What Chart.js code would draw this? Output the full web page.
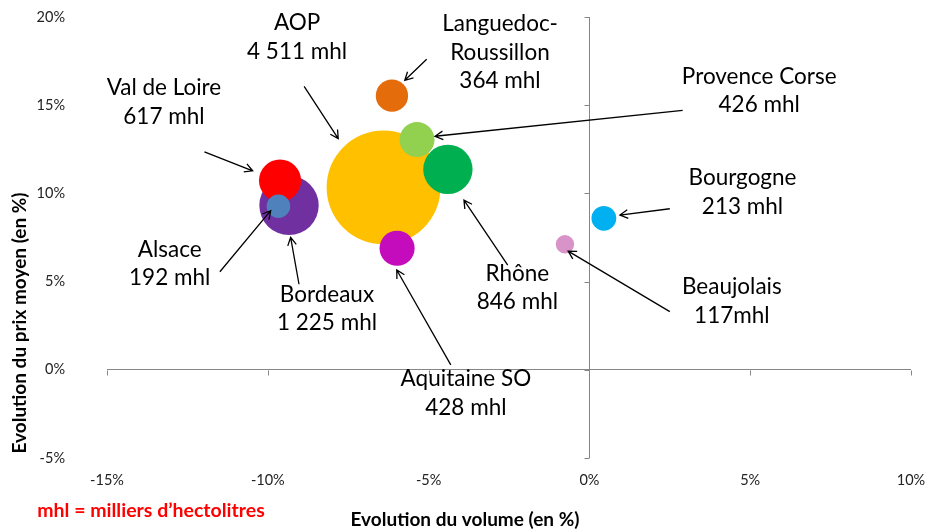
<!DOCTYPE html>
<html>
<head>
<meta charset="utf-8">
<script src="https://cdn.jsdelivr.net/npm/chart.js@4/dist/chart.umd.min.js"></script>
<style>
  html, body { margin: 0; padding: 0; background: #ffffff; }
  #wrap { width: 930px; height: 531px; position: relative; }
</style>
</head>
<body>
<div id="wrap"><canvas id="c" width="930" height="531"></canvas></div>
<script>
// ---- data ----
const regions   = ['AOP', 'Bordeaux', 'Rhône', 'Val de Loire', 'Aquitaine SO', 'Provence Corse', 'Languedoc-Roussillon', 'Bourgogne', 'Alsace', 'Beaujolais'];
const volChange = [-6.40, -9.34, -4.40, -9.62, -5.98, -5.36, -6.14, 0.45, -9.67, -0.76];   // % evolution du volume
const priceChange = [10.34, 9.32, 11.36, 10.73, 6.89, 13.05, 15.54, 8.59, 9.27, 7.12];   // % evolution du prix moyen
const volumes   = [4511, 1225, 846, 617, 428, 426, 364, 213, 192, 117];                    // mhl
const colors    = ['#FFC000', '#7030A0', '#00B050', '#FF0000', '#C40CBC', '#92D050', '#E46C0A', '#00B0F0', '#4F81BD', '#D894C9'];
const xTicks = [-15, -10, -5, 0, 5, 10];
const yTicks = [-5, 0, 5, 10, 15, 20];

// label texts (lines) and their anchors/arrows in data units
const labelLines = [
  ['AOP', '4 511 mhl'],
  ['Bordeaux', '1 225 mhl'],
  ['Rhône', '846 mhl'],
  ['Val de Loire', '617 mhl'],
  ['Aquitaine SO', '428 mhl'],
  ['Provence Corse', '426 mhl'],
  ['Languedoc-', 'Roussillon', '364 mhl'],
  ['Bourgogne', '213 mhl'],
  ['Alsace', '192 mhl'],
  ['Beaujolais', '117mhl']
];
const labelAnchorX = [-9.09, -8.16, -2.24, -13.23, -3.84, 5.28, -2.78, 4.76, -13.05, 4.43];
const labelAnchorY = [19.66, 4.28, 5.47, 15.98, -0.51, 16.64, 19.62, 10.88, 6.83, 4.71];
const arrowFromX = [-8.87, -9.03, -2.54, -11.97, -4.31, 2.90, -5.06, 2.50, -11.49, 2.50];
const arrowFromY = [16.07, 4.85, 5.94, 12.35, 0.28, 14.71, 17.60, 9.13, 5.56, 3.30];
const arrowToX   = [-7.81, -9.29, -3.90, -10.47, -5.99, -4.80, -5.74, 0.95, -9.91, -0.66];
const arrowToY   = [13.11, 7.51, 9.62, 11.28, 5.66, 13.24, 16.41, 8.77, 9.02, 6.73];

const BUBBLE_K = 0.848;
const FONT = 'Lato, "Open Sans", sans-serif';

const points = volChange.map((x, i) => ({ x: x, y: priceChange[i], r: BUBBLE_K * Math.sqrt(volumes[i]) }));

const annotationPlugin = {
  id: 'annots',
  afterDatasetsDraw(chart) {
    const ctx = chart.ctx;
    const xs = chart.scales.x, ys = chart.scales.y;
    ctx.save();
    // zero axes tick marks
    ctx.strokeStyle = '#868686';
    ctx.lineWidth = 1;
    const x0 = Math.round(xs.getPixelForValue(0)) + 0.5;
    const y0 = Math.round(ys.getPixelForValue(0)) + 0.5;
    ctx.beginPath();
    yTicks.forEach(v => {
      const py = Math.round(ys.getPixelForValue(v)) + 0.5;
      ctx.moveTo(x0 - 5, py); ctx.lineTo(x0, py);
    });
    xTicks.forEach(v => {
      const px = Math.round(xs.getPixelForValue(v)) + 0.5;
      ctx.moveTo(px, y0); ctx.lineTo(px, y0 + 5);
    });
    ctx.stroke();

    // tick labels (low position, as in the reference)
    ctx.fillStyle = '#222';
    ctx.font = '14.5px ' + FONT;
    ctx.textBaseline = 'middle';
    ctx.textAlign = 'right';
    yTicks.forEach(v => ctx.fillText(v + '%', 65, ys.getPixelForValue(v)));
    ctx.textAlign = 'center';
    xTicks.forEach(v => ctx.fillText(v + '%', xs.getPixelForValue(v), 480));

    // arrows
    ctx.strokeStyle = '#000';
    ctx.lineWidth = 1.3;
    for (let i = 0; i < regions.length; i++) {
      const ax = xs.getPixelForValue(arrowFromX[i]), ay = ys.getPixelForValue(arrowFromY[i]);
      const bx = xs.getPixelForValue(arrowToX[i]), by = ys.getPixelForValue(arrowToY[i]);
      ctx.beginPath();
      ctx.moveTo(ax, ay); ctx.lineTo(bx, by);
      const ang = Math.atan2(by - ay, bx - ax);
      const L = 9, W = 0.5;
      ctx.moveTo(bx - L * Math.cos(ang - W), by - L * Math.sin(ang - W));
      ctx.lineTo(bx, by);
      ctx.lineTo(bx - L * Math.cos(ang + W), by - L * Math.sin(ang + W));
      ctx.stroke();
    }

    // labels
    ctx.fillStyle = '#000';
    ctx.font = '22.5px ' + FONT;
    ctx.textAlign = 'center';
    ctx.textBaseline = 'middle';
    for (let i = 0; i < regions.length; i++) {
      const px = xs.getPixelForValue(labelAnchorX[i]);
      const py = ys.getPixelForValue(labelAnchorY[i]);
      labelLines[i].forEach((t, k) => ctx.fillText(t, px, py + k * 28.6));
    }

    // axis titles
    ctx.font = 'bold 19px ' + FONT;
    ctx.fillText('Evolution du volume (en %)', 465, 520);
    ctx.save();
    ctx.translate(20, 323);
    ctx.rotate(-Math.PI / 2);
    ctx.fillText('Evolution du prix moyen (en %)', 0, 0);
    ctx.restore();

    ctx.fillStyle = '#FF0000';
    ctx.font = 'bold 19.5px ' + FONT;
    ctx.fillText('mhl = milliers d\u2019hectolitres', 151, 511);
    ctx.restore();
  }
};

new Chart(document.getElementById('c'), {
  type: 'bubble',
  data: {
    datasets: [{
      label: 'Régions',
      data: points,
      backgroundColor: colors,
      borderWidth: 0,
      hoverBorderWidth: 0
    }]
  },
  options: {
    responsive: false,
    animation: false,
    events: [],
    layout: { autoPadding: false, padding: { top: 17, right: 19, left: 107, bottom: 73 } },
    plugins: { legend: { display: false }, tooltip: { enabled: false } },
    scales: {
      x: {
        type: 'linear', min: -15, max: 10,
        afterBuildTicks: s => { s.ticks = xTicks.map(v => ({ value: v })); },
        afterFit: s => { s.height = 0; s.paddingLeft = 0; s.paddingRight = 0; },
        ticks: { display: false },
        grid: { drawTicks: false, color: c => (c.tick && c.tick.value === 0) ? '#868686' : 'rgba(0,0,0,0)', lineWidth: 1 },
        border: { display: false }
      },
      y: {
        type: 'linear', min: -5, max: 20,
        afterBuildTicks: s => { s.ticks = yTicks.map(v => ({ value: v })); },
        afterFit: s => { s.width = 0; s.paddingTop = 0; s.paddingBottom = 0; },
        ticks: { display: false },
        grid: { drawTicks: false, color: c => (c.tick && c.tick.value === 0) ? '#868686' : 'rgba(0,0,0,0)', lineWidth: 1 },
        border: { display: false }
      }
    }
  },
  plugins: [annotationPlugin]
});
</script>
</body>
</html>
